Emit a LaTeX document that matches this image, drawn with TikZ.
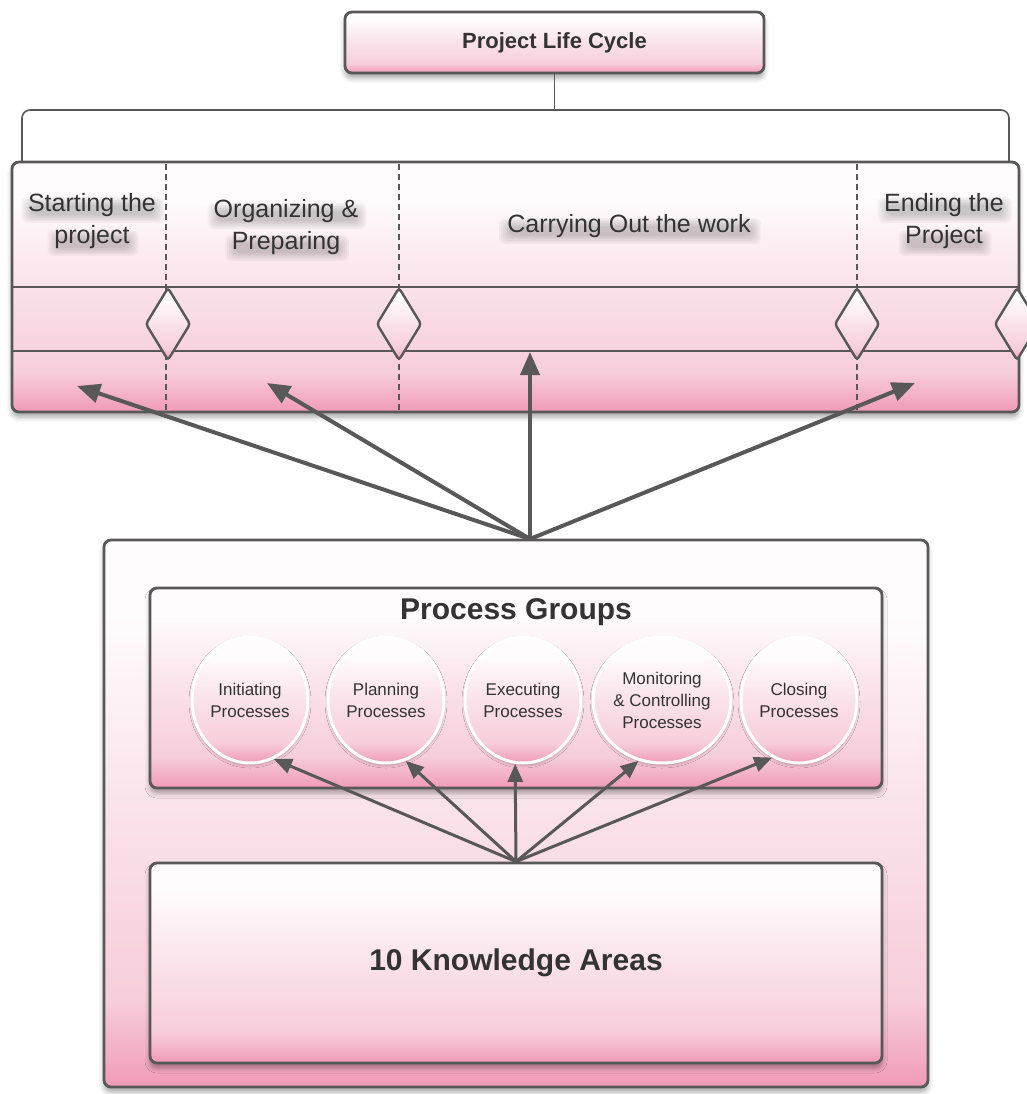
\documentclass[tikz,border=0pt]{standalone}
\usepackage{fontspec}
\setmainfont{Liberation Sans}
\usetikzlibrary{arrows.meta,shapes.geometric,shadows.blur}

\definecolor{edge}{HTML}{585858}
\definecolor{ink}{HTML}{333333}
\definecolor{pkW}{HTML}{FFFCFD}
\definecolor{pkL}{HTML}{FAE2EA}
\definecolor{pkM}{HTML}{F7CEDB}
\definecolor{pkD}{HTML}{F09AB7}

% white at the top, pale pink in the middle, a stronger pink band at the bottom
\pgfdeclareverticalshading{pinkfade}{100bp}{color(0bp)=(pkD); color(25bp)=(pkD); color(33bp)=(pkM); color(50bp)=(pkL); color(68bp)=(pkW); color(100bp)=(pkW)}

% soft grey haze under one line of a phase label: centre x, centre y, width
\newcommand\haze[3]{%
  \foreach \k in {0,...,5}
    \fill[black, opacity=0.035, rounded corners=6pt]
      ({#1-#3/2-8+2*\k},{#2-13+1.6*\k}) rectangle ({#1+#3/2+8-2*\k},{#2+13-1.6*\k});}

\begin{document}
\begin{tikzpicture}[x=1pt,y=-1pt,
  box/.style={draw=edge, line width=2.8pt, rounded corners=7pt, shade, shading=pinkfade,
    inner sep=0pt, blur shadow={shadow xshift=0pt, shadow yshift=-5pt, shadow blur radius=5pt, shadow opacity=35}},
  bubble/.style={ellipse, draw=white, line width=3pt, shade, shading=pinkfade, inner sep=0pt,
    minimum width=116pt, minimum height=126pt, align=center, text=ink,
    font=\fontsize{17}{22}\selectfont,
    blur shadow={shadow xshift=0pt, shadow yshift=-2pt, shadow blur radius=3pt, shadow opacity=30}},
  phasefont/.style={align=center, text=ink, font=\fontsize{25}{32}\selectfont},
  rule/.style={draw=edge, line width=1.8pt},
  divider/.style={draw=edge, line width=1.4pt, dash pattern=on 6pt off 4pt},
  bracket/.style={draw=edge, line width=1.6pt},
  uparrow/.style={draw=edge, line width=4pt, -{Triangle[length=23pt,width=19pt]}},
  lowarrow/.style={draw=edge, line width=3pt, -{Triangle[length=18pt,width=15pt]}},
  gate/.style={draw=edge, line width=2.4pt, rounded corners=3pt, shade, shading=pinkfade}]
\useasboundingbox (0,0) rectangle (1027,1094);

% ---- life cycle header and its bracket
\node[box, minimum width=419pt, minimum height=61pt, text=ink,
      font=\bfseries\fontsize{22}{26}\selectfont] (plc) at (554.5,42.5) {Project Life Cycle};
\coordinate (brL) at (22,170);
\coordinate (brR) at (1009,170);
\draw[bracket] (plc.south) -- (plc.south |- 0,110);
\draw[bracket, rounded corners=8pt] (brL) -- (22,110) -- (1009,110) -- (brR);

% ---- phase band
\node[box, minimum width=1007pt, minimum height=250pt] (phases) at (515.5,287) {};
\draw[rule] (phases.west |- 0,287) -- (phases.east |- 0,287);
\draw[rule] (phases.west |- 0,351) -- (phases.east |- 0,351);
\foreach \x in {166,399,857}
  \draw[divider] (\x,164) -- (\x,411);
\foreach \x in {168,399,857,1017}
  \draw[gate] (\x,288) -- (\x+22,324) -- (\x,360) -- (\x-22,324) -- cycle;

% shadows under the phase labels
\haze{93}{210}{127}
\haze{93}{243}{75}
\haze{287}{216}{143}
\haze{287}{248}{108}
\haze{630}{231}{246}
\haze{945}{210}{118}
\haze{945}{243}{77}

\node[phasefont] (p1) at (92,221) {Starting the\\project};
\node[phasefont] (p2) at (286,227) {Organizing \&\\Preparing};
\node[phasefont] (p3) at (629,226) {Carrying Out the work};
\node[phasefont] (p4) at (944,221) {Ending the\\Project};

% ---- process groups and knowledge areas
\node[box, minimum width=824pt, minimum height=547pt] (outer) at (516,813.5) {};
\node[box, minimum width=732pt, minimum height=200pt] (pg) at (516,688) {};
\node[text=ink, font=\bfseries\fontsize{30}{34}\selectfont] (pgtitle) at (516,612) {Process Groups};

\node[bubble] (e1) at (250,700) {Initiating\\Processes};
\node[bubble] (e2) at (386,700) {Planning\\Processes};
\node[bubble] (e3) at (523,700) {Executing\\Processes};
\node[bubble] (e4) at (662,700) {Monitoring\\\& Controlling\\Processes};
\node[bubble] (e5) at (799,700) {Closing\\Processes};

\node[box, minimum width=732pt, minimum height=200pt, text=ink,
      font=\bfseries\fontsize{30}{34}\selectfont] (ka) at (516,963) {10 Knowledge Areas};

% ---- connectors
\draw[lowarrow] (ka.north) -- (e1.-68);
\draw[lowarrow] (ka.north) -- (e2.-72);
\draw[lowarrow] (ka.north) -- (e3.-97);
\draw[lowarrow] (ka.north) -- (e4.-111);
\draw[lowarrow] (ka.north) -- (e5.-115);

\coordinate (hub) at (530,539);
\coordinate (t1) at (77,386);
\coordinate (t2) at (267,383);
\coordinate (t3) at (530,352);
\coordinate (t4) at (915,383);
\foreach \t in {t1,t2,t3,t4}
  \draw[uparrow] (hub) -- (\t);
\end{tikzpicture}
\end{document}
